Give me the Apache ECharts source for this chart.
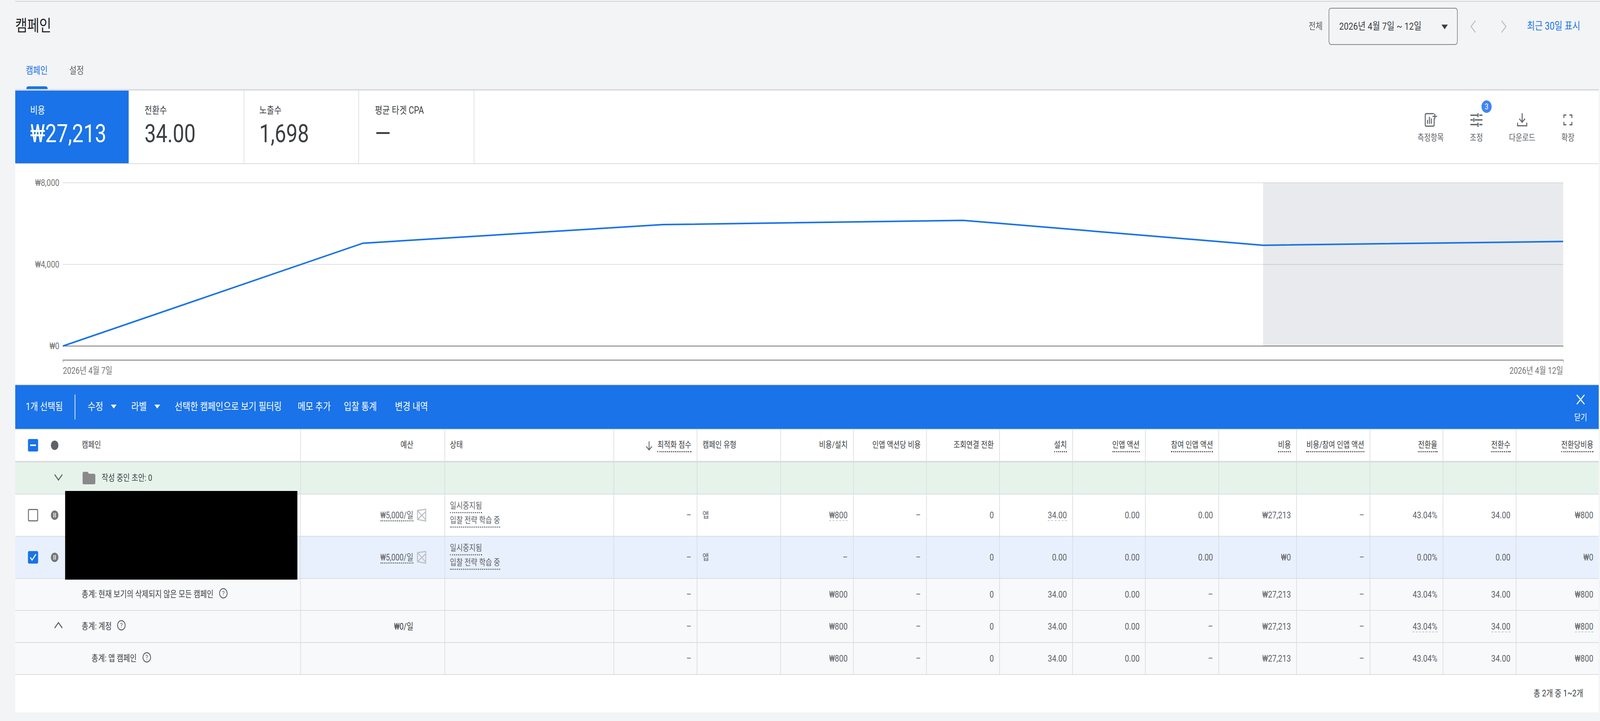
<!DOCTYPE html>
<html lang="ko"><head><meta charset="utf-8">
<script src="https://cdn.jsdelivr.net/npm/echarts@6/dist/echarts.min.js"></script>
<style>
html,body{margin:0;padding:0;background:#f3f4f6;width:100%;height:100%;overflow:hidden}
#page{position:absolute;left:0;top:0;width:5036px;height:1846px;transform-origin:0 0;font-family:Roboto,"Noto Sans CJK KR",sans-serif;color:#3c4043}
.r{position:absolute}
.t{position:absolute;white-space:nowrap;line-height:1;transform:translateY(-50%)}
.t.right{transform:translate(-100%,-50%)}
.t.center{transform:translate(-50%,-50%)}
svg.i{position:absolute;overflow:visible}
#chart{position:absolute;left:0;top:440px;width:5036px;height:545px}
</style></head><body><div id="page"></div>
<script>
// ---- data ----
const dates = ['2026년 4월 7일','2026년 4월 8일','2026년 4월 9일','2026년 4월 10일','2026년 4월 11일','2026년 4월 12일'];
const costs = [0, 5040, 5950, 6160, 4940, 5123];
const yTicks = [0, 4000, 8000];
const kpiLabels = ['비용','전환수','노출수','평균 타겟 CPA'];
const kpiValues = ['₩27,213','34.00','1,698','—'];
const toolLabels = ['측정항목','조정','다운로드','확장'];
const actionLabels = ['수정','라벨','선택한 캠페인으로 보기 필터링','메모 추가','입찰 통계','변경 내역'];
const headers = ['최적화 점수','캠페인 유형','비용/설치','인앱 액션당 비용','조회연결 전환','설치','인앱 액션','참여 인앱 액션','비용','비용/참여 인앱 액션','전환율','전환수','전환당비용'];
const row1 = ['–','앱','₩800','–','0','34.00','0.00','0.00','₩27,213','–','43.04%','34.00','₩800'];
const row2 = ['–','앱','–','–','0','0.00','0.00','0.00','₩0','–','0.00%','0.00','₩0'];
const totalAll = ['–','','₩800','–','0','34.00','0.00','–','₩27,213','–','43.04%','34.00','₩800'];
const totalAccount = ['–','','₩800','–','0','34.00','0.00','–','₩27,213','–','43.04%','34.00','₩800'];
const totalApp = ['–','','₩800','–','0','34.00','0.00','–','₩27,213','–','43.04%','34.00','₩800'];
const budget = '₩5,000/일';
const statusLines = ['일시중지됨','입찰 전략 학습 중'];

// ---- layout ----
const page = document.getElementById('page');
const PL=48, PR=5032;
const colEdges=[945,1399,1931,2193,2456,2685,2915,3145,3375,3604,3835,4080,4311,4541,4771];
const metricEnds=colEdges.slice(3).concat([PR]);
function rect(x,y,w,h,bg,extra){const d=document.createElement('div');d.className='r';d.style.cssText=`left:${x}px;top:${y}px;width:${w}px;height:${h}px;background:${bg};${extra||''}`;page.appendChild(d);return d;}
function txt(x,y,s,size,color,align,extra){const d=document.createElement('div');d.className='t'+(align?' '+align:'');d.style.cssText=`left:${x}px;top:${y}px;font-size:${size}px;color:${color};${extra||''}`;d.textContent=s;page.appendChild(d);return d;}
function under(x1,x2,y,color,style){const d=document.createElement('div');d.className='r';d.style.cssText=`left:${x1}px;top:${y}px;width:${x2-x1}px;height:0;border-top:${style||'3px dotted '+color}`;page.appendChild(d);}
function svg(x,y,w,h,vb,body){const n=document.createElementNS('http://www.w3.org/2000/svg','svg');n.setAttribute('class','i');n.setAttribute('viewBox',vb);n.setAttribute('width',w);n.setAttribute('height',h);n.style.left=x+'px';n.style.top=y+'px';n.innerHTML=body;page.appendChild(n);}
function measure(el){return el.getBoundingClientRect();}

// page chrome
rect(48,2,4988,3,'#dadce0');
txt(48,66,'캠페인',41,'#202124');
txt(81,180,'캠페인',25,'#1a73e8');
txt(218,180,'설정',25,'#5f6368');
rect(83,221,67,8,'#1a73e8','border-radius:6px 6px 0 0');
rect(48,228,4984,4,'#dadce0');
txt(4163,67,'전체',24,'#5f6368','right');
rect(4182,20,406,95,'transparent','box-sizing:border-box;border:2px solid #80868b;border-radius:8px');
txt(4215,67,'2026년 4월 7일 ~ 12일',26.3,'#3c4043');
svg(4537,63,20,12,'0 0 20 12','<path d="M0 0H20L10 12Z" fill="#3c4043"/>');
svg(4628,52,18,32,'0 0 18 32','<path d="M16 1 2 16l14 15" fill="none" stroke="#bdc1c6" stroke-width="3"/>');
svg(4724,52,18,32,'0 0 18 32','<path d="M2 1l14 15L2 31" fill="none" stroke="#bdc1c6" stroke-width="3"/>');
txt(4974,67,'최근 30일 표시',27,'#1a73e8','right');

// KPI strip + chart panel
rect(48,232,4984,754,'#fff');
rect(48,232,357,186,'#1a73e8');
rect(48,418,4984,2,'#dadce0');
[767,1128,1491].forEach(x=>rect(x,232,2,186,'#dadce0'));
[95,455,816,1180].forEach((x,i)=>{
  txt(x,283,kpiLabels[i],25.5,i?'#3c4043':'#fff');
  txt(x,343,kpiValues[i],64,i?'#3c4043':'#fff');
});
const toolX=[4503,4647,4791,4935];
toolX.forEach((x,i)=>txt(x,352,toolLabels[i],22.5,'#5f6368','center'));
const G='#5f6368';
svg(4483,289,40,36,'0 0 40 36',`<path d="M30 2H6a3 3 0 0 0-3 3v26a3 3 0 0 0 3 3h22a3 3 0 0 0 3-3V14" fill="none" stroke="${G}" stroke-width="3"/><path d="M10 28V18M16 28V10M22 28V14" stroke="${G}" stroke-width="3"/><path d="M33 2v14M26 9h14" stroke="${G}" stroke-width="3"/>`);
svg(4628,290,38,35,'0 0 38 35',`<path d="M0 5h22M28 5h10M24 0v10M0 17h8M14 17h24M11 12v10M0 29h22M28 29h10M24 24v11" stroke="${G}" stroke-width="3.5" fill="none"/>`);
rect(4663,257,32,32,'#4285f4','border-radius:50%');
txt(4679,273,'3',21,'#fff','center');
svg(4775,290,32,34,'0 0 32 34',`<path d="M16 0v22M7 14l9 9 9-9" fill="none" stroke="${G}" stroke-width="3"/><path d="M1.5 24v8h29v-8" fill="none" stroke="${G}" stroke-width="3"/>`);
svg(4921,293,28,28,'0 0 28 28',`<path d="M1.5 9V1.5H9M19 1.5h7.5V9M26.5 19v7.5H19M9 26.5H1.5V19" fill="none" stroke="${G}" stroke-width="3"/>`);

// action bar
rect(48,984,4984,2,'#dadce0');
rect(48,986,4984,112,'#1a73e8');
rect(48,1098,4984,2,'#d2d9e6');
txt(81,1041,'1개 선택됨',26,'#fff');
rect(235,1010,2,64,'#fff');
const actX=[276,413,550,937,1082,1243];
actX.forEach((x,i)=>txt(x,1041,actionLabels[i],26.5,'#fff'));
[349,486].forEach(x=>svg(x,1036,18,10,'0 0 18 10','<path d="M0 0H18L9 10Z" fill="#fff"/>'));
svg(4961,1009,28,28,'0 0 28 28','<path d="M2 2l24 24M26 2 2 26" stroke="#fff" stroke-width="3"/>');
txt(4975,1069,'닫기',22,'#fff','center');

// table rows
const bands=[[1100,80,'#fff'],[1184,80,'#e6f3eb'],[1266,106,'#fff'],[1374,106,'#e8f0fe'],[1482,80,'#f8f9fa'],[1564,80,'#f8f9fa'],[1646,80,'#f8f9fa'],[1728,96,'#fff']];
bands.forEach(b=>rect(48,b[0],4984,b[1],b[2]));
rect(48,1180,4984,4,'#dadce0');
[1264,1372,1480,1562,1644,1726].forEach(y=>rect(48,y,4984,2,'#dadce0'));
colEdges.forEach(x=>rect(x,1100,2,626,'#dadce0'));
rect(205,1257,731,227,'#000');

// header text
txt(257,1139,'캠페인',22,'#3c4043');
txt(1301,1139,'예산',22,'#3c4043','right');
txt(1416,1139,'상태',22,'#3c4043');
const underlined=new Set([0,5,6,7,8,9,10,11,12]);
headers.forEach((h,i)=>{
  const el=(i===1)?txt(colEdges[3]+18,1139,h,22,'#3c4043'):txt(metricEnds[i]-17,1139,h,22,'#3c4043','right');
  if(underlined.has(i)){const b=measure(el);under(b.left,b.right,1155,'#3c4043');}
});
svg(2033,1130,20,23,'0 0 20 23',`<path d="M10 0v22M1 13l9 9 9-9" fill="none" stroke="#5f6368" stroke-width="2.5"/>`);

// checkboxes & dots
rect(88,1124,32,32,'#1a73e8','border-radius:4px');
rect(95,1138,18,4,'#fff');
rect(160,1128,24,24,'#5f6368','border-radius:50%');

// drafts row
svg(170,1213,28,18,'0 0 28 18',`<path d="M2 2l12 14L26 2" fill="none" stroke="#5f6368" stroke-width="3"/>`);
svg(260,1208,40,32,'0 0 40 32','<path d="M4 0h12l4 5h16a4 4 0 0 1 4 4v19a4 4 0 0 1-4 4H4a4 4 0 0 1-4-4V4a4 4 0 0 1 4-4z" fill="#8a8a8a"/>');
txt(320,1223,'작성 중인 초안: 0',22.5,'#3c4043');

// campaign rows
function pauseDot(y){rect(160,y-12,24,24,'#757575','border-radius:50%');rect(168,y-6,3,12,'#e0e0e0');rect(173,y-6,3,12,'#e0e0e0');}
function adIcon(y){svg(1310,y-17,35,35,'0 0 35 35','<path d="M4 5 30 2v30L4 28Z M4 5l26 24M4 28 30 8" fill="none" stroke="#bdc1c6" stroke-width="3"/>');}
function dataCells(vals,y,dash){
  vals.forEach((v,i)=>{
    if(v==='')return;
    const el=(i===1)?txt(colEdges[3]+18,y,v,22,'#5f6368'):txt(metricEnds[i]-17,y,v,24,'#5f6368','right');
    if(dash&&dash.has(i)){const b=measure(el);under(b.left,b.right,y+13,'','2px dashed #c4c7ca');}
  });
}
function campaign(y,vals,checked,dash){
  rect(88,y-16,32,32,checked?'#1a73e8':'#fff',checked?'border-radius:4px':'box-sizing:border-box;border:3px solid #757575;border-radius:4px');
  if(checked)svg(92,y-11,24,22,'0 0 24 22','<path d="M3 11l6 7L21 3" fill="none" stroke="#fff" stroke-width="3"/>');
  pauseDot(y);
  const b=txt(1301,y,budget,23,'#5f6368','right');const r=measure(b);under(r.left,r.right,y+13,'#5f6368');
  adIcon(y);
  statusLines.forEach((s,k)=>{const e=txt(1416,y+(k?13:-24),s,22,'#5f6368');const q=measure(e);under(q.left,q.right,y+(k?29:-8),'#5f6368');});
  dataCells(vals,y,dash);
}
campaign(1319,row1,false,new Set([2,5]));
campaign(1427,row2,true);

// totals
function help(x,y){svg(x-14,y-14,28,28,'0 0 28 28','<circle cx="14" cy="14" r="12" fill="none" stroke="#5f6368" stroke-width="2.5"/><text x="14" y="20" font-size="17" text-anchor="middle" fill="#5f6368" font-family="Roboto">?</text>');}
txt(257,1522,'총계: 현재 보기의 삭제되지 않은 모든 캠페인',22.7,'#3c4043');help(703,1519);
dataCells(totalAll,1522);
svg(170,1592,28,18,'0 0 28 18',`<path d="M2 16 14 2l12 14" fill="none" stroke="#5f6368" stroke-width="3"/>`);
txt(257,1604,'총계: 계정',22.7,'#3c4043');help(382,1601);
txt(1301,1604,'₩0/일',23,'#3c4043','right');
dataCells(totalAccount,1604,new Set([10,11,12]));
txt(288,1686,'총계: 앱 캠페인',22.7,'#3c4043');help(462,1683);
dataCells(totalApp,1686);

// footer
txt(4983,1775,'총 2개 중 1~2개',23,'#3c4043','right');
rect(48,1824,4984,0,'transparent','box-shadow:0 3px 6px rgba(60,64,67,.45)');

// ---- chart ----
const host=document.createElement('div');host.id='chart';page.appendChild(host);
const chart=echarts.init(host,null,{renderer:'svg',width:5036,height:545});
const ends=(i)=>i===0||i===dates.length-1;
chart.setOption({
  animation:false,
  backgroundColor:'transparent',
  textStyle:{fontFamily:'Roboto,"Noto Sans CJK KR",sans-serif'},
  grid:{left:198,right:116,top:28,height:418},
  xAxis:[
    {type:'category',data:dates,boundaryGap:false,axisLine:{lineStyle:{color:'#757575',width:2}},axisTick:{show:false},axisLabel:{show:false}},
    {type:'category',data:dates,boundaryGap:false,position:'bottom',offset:36,
     axisLine:{lineStyle:{color:'#757575',width:2}},
     axisTick:{show:true,length:6,interval:ends,lineStyle:{color:'#757575',width:1}},
     axisLabel:{show:true,interval:ends,margin:15,fontSize:23.5,color:'#757575',alignMinLabel:'left',alignMaxLabel:'right',showMinLabel:true,showMaxLabel:true}}
  ],
  yAxis:{type:'value',min:yTicks[0],max:yTicks[2],interval:yTicks[1],
    axisLine:{show:false},axisTick:{show:false},
    axisLabel:{margin:11,fontSize:24,color:'#757575',formatter:v=>'₩'+v.toLocaleString('en-US')},
    splitLine:{lineStyle:{color:'#e0e0e0',width:2}}},
  series:[{type:'line',data:costs,xAxisIndex:0,symbol:'none',showSymbol:false,
    lineStyle:{color:'#1a73e8',width:4,join:'miter'},
    markArea:{silent:true,itemStyle:{color:'rgba(50,70,100,0.115)'},data:[[{xAxis:dates[4]},{xAxis:dates[5]}]]}}]
});
// the browser window may be narrower than the reference: fit the width, keep the height
page.style.transform=`scaleX(${window.innerWidth/5036})`;
</script></body></html>
